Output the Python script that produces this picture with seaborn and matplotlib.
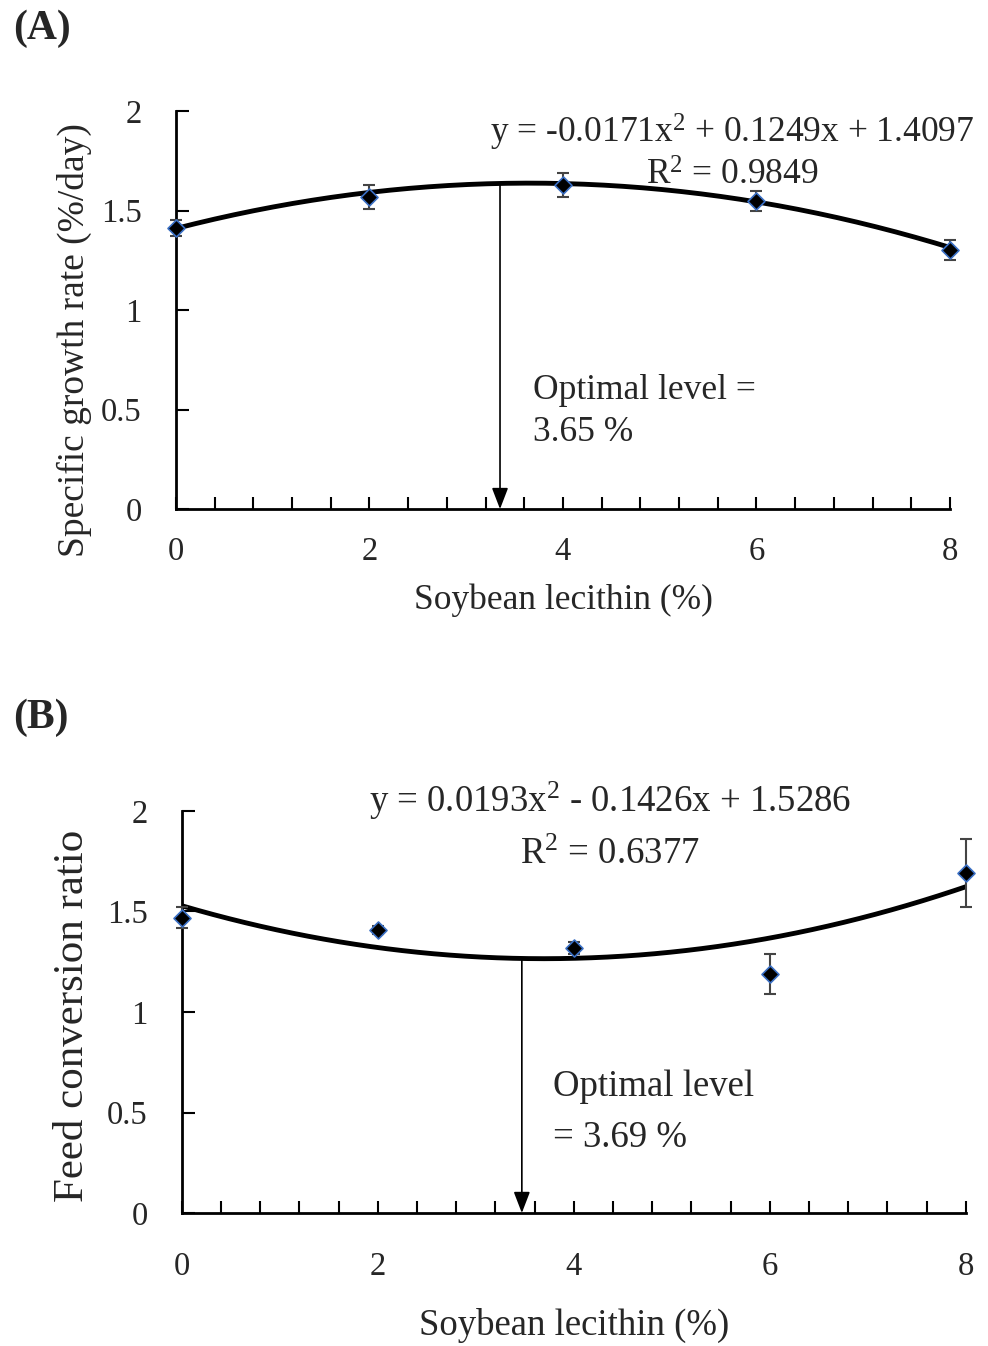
import numpy as np
import pandas as pd
import matplotlib
matplotlib.use("Agg")
import matplotlib.pyplot as plt
import seaborn as sns

# data
levels=[0,2,4,6,8]
sgr=[1.41,1.57,1.63,1.55,1.30]
sgr_err=[0.04,0.06,0.06,0.05,0.05]
fcr=[1.47,1.41,1.32,1.19,1.69]
fcr_err=[0.05,0.02,0.03,0.10,0.17]

# quadratic fits as printed on the chart
coef_a=[-0.0171,0.1249,1.4097]
coef_b=[0.0193,-0.1426,1.5286]
eq_a="y = -0.0171x$^2$ + 0.1249x + 1.4097"
eq_b="y = 0.0193x$^2$ - 0.1426x + 1.5286"
r2_a="R$^2$ = 0.9849"
r2_b="R$^2$ = 0.6377"
opt_a=3.35
opt_b=3.47
opt_lines_a=["Optimal level =","3.65 %"]
opt_lines_b=["Optimal level","= 3.69 %"]

sns.set_style("ticks")
plt.rcParams['font.family']=['Liberation Serif','DejaVu Serif']
plt.rcParams['mathtext.fontset']='custom'
plt.rcParams['mathtext.rm']='Liberation Serif'
plt.rcParams['mathtext.it']='Liberation Serif'

fig=plt.figure(figsize=(9.88,13.46),dpi=100)
ax1=fig.add_axes([0.178,0.6218,0.7835,0.2957])
ax2=fig.add_axes([0.184,0.0988,0.7935,0.2987])


def panel(ax,y,err,coef,eq,r2,opt,opt_lines,ylabel,fs,ylab_fs,eq_pos,r2_pos,txt_x,txt_y,xpad,ylab_xy,xlab_y):
    xs=np.linspace(0,8,200)
    curve=pd.DataFrame({'x':xs,'y':np.polyval(coef,xs)})
    sns.lineplot(data=curve,x='x',y='y',ax=ax,color='black',linewidth=3.5)
    ax.errorbar(levels,y,yerr=err,fmt='none',ecolor='#444444',elinewidth=1.5,capsize=4,capthick=1.5,clip_on=False,zorder=3)
    pts=pd.DataFrame({'x':levels,'y':y})
    sns.scatterplot(data=pts,x='x',y='y',ax=ax,marker='D',s=75,color='black',edgecolor='#3a6fc4',linewidth=1.2,zorder=4,clip_on=False)
    top=np.polyval(coef,opt)
    ax.annotate('',xy=(opt,0),xytext=(opt,top),arrowprops=dict(arrowstyle='-|>,head_length=1.3,head_width=0.5',color='black',lw=1.2,shrinkA=0,shrinkB=0))
    ax.text(eq_pos[0],eq_pos[1],eq,ha='center',va='center',fontsize=fs,clip_on=False)
    ax.text(r2_pos[0],r2_pos[1],r2,ha='center',va='center',fontsize=fs)
    for line,ty in zip(opt_lines,txt_y):
        ax.text(txt_x,ty,line,ha='left',va='center',fontsize=fs)
    ax.set_xlim(0,8)
    ax.set_ylim(0,2)
    ax.set_xticks([0,2,4,6,8])
    ax.set_xticks(np.arange(0,8.01,0.4),minor=True)
    ax.set_yticks([0,0.5,1,1.5,2])
    ax.set_yticklabels(['0','0.5','1','1.5','2'])
    ax.tick_params(axis='both',which='both',direction='in',length=9,width=1.5,labelsize=23.5,color='black')
    ax.tick_params(axis='x',pad=xpad)
    ax.tick_params(axis='y',pad=24.5)
    ax.set_xlabel("Soybean lecithin (%)",fontsize=fs,va='center')
    ax.xaxis.set_label_coords(0.501,xlab_y)
    ax.set_ylabel(ylabel,fontsize=ylab_fs,va='center')
    ax.yaxis.set_label_coords(ylab_xy[0],ylab_xy[1])
    for s in ['top','right']:
        ax.spines[s].set_visible(False)
    for s in ['left','bottom']:
        ax.spines[s].set_linewidth(2)
        ax.spines[s].set_color('black')


panel(ax1,sgr,sgr_err,coef_a,eq_a,r2_a,opt_a,opt_lines_a,"Specific growth rate (%/day)",25.5,27,
      (5.75,1.89),(5.75,1.67),3.69,[0.598,0.387],19.8,(-0.1305,0.425),-0.229)
panel(ax2,fcr,fcr_err,coef_b,eq_b,r2_b,opt_b,opt_lines_b,"Feed conversion ratio",26.5,31,
      (4.37,2.05),(4.37,1.78),3.786,[0.627,0.373],27.7,(-0.139,0.49),-0.279)

fig.text(0.013,0.979,"(A)",fontsize=30,fontweight='bold',va='center',ha='left')
fig.text(0.013,0.467,"(B)",fontsize=30,fontweight='bold',va='center',ha='left')

plt.savefig("out.png",dpi=100)
